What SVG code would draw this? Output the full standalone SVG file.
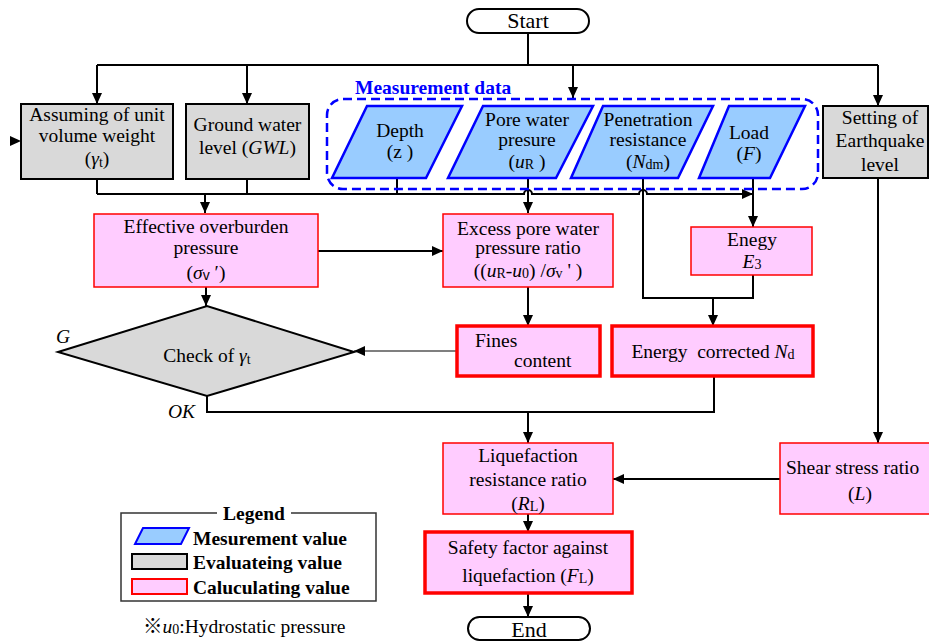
<svg xmlns="http://www.w3.org/2000/svg" width="929" height="641" viewBox="0 0 929 641">
  <style>
    .t { font-family: "Liberation Serif", "Times New Roman", serif; font-size: 19.5px; fill: #000; text-anchor: middle; }
    .s { text-anchor: start; }
    .bold { font-weight: bold; }
    .it { font-style: italic; }
    .sub { font-size: 14px; }
    .term { fill: #fff; stroke: #000; stroke-width: 2; }
    .gray { fill: #D9D9D9; stroke: #000; stroke-width: 2; }
    .calc { fill: #FFCCFF; stroke: #FF0000; stroke-width: 1.5; }
    .calcB { fill: #FFCCFF; stroke: #FF0000; stroke-width: 3.5; }
    .meas { fill: #99CCFF; stroke: #0000FF; stroke-width: 2.5; stroke-linejoin: miter; }
    .conn { fill: none; stroke: #000; stroke-width: 2; }
    .thin { fill: none; stroke: #000; stroke-width: 1.2; }
    .arr { marker-end: url(#arrow); }
  </style>
  <defs>
    <marker id="arrow" viewBox="0 0 11 10" refX="11" refY="5" markerWidth="11" markerHeight="10" markerUnits="userSpaceOnUse" orient="auto">
      <path d="M0,0 L11,5 L0,10 z" fill="#000"/>
    </marker>
  </defs>
  <rect width="929" height="641" fill="#fff"/>

  <!-- connectors -->
  <g id="connectors">
    <path class="conn" d="M528,33 V65"/>
    <path class="conn" d="M97,65 H878"/>
    <path class="conn arr" d="M97,65 V104"/>
    <path class="conn arr" d="M247,65 V104"/>
    <path class="conn arr" d="M573,65 V98"/>
    <path class="conn arr" d="M878,65 V106"/>
    <!-- collector under the input boxes -->
    <path class="conn" d="M97,179 V194"/>
    <path class="conn" d="M247,179 V194"/>
    <path class="conn" d="M397,178 V194"/>
    <path class="conn arr" d="M97,194 H524 a4,4 0 0 1 8,0 H639 a4,4 0 0 1 8,0 H753"/>
    <path class="conn arr" d="M205,194 V213"/>
    <path class="conn arr" d="M528,178 V213"/>
    <path class="conn" d="M643,178 V298 H753 V275"/>
    <path class="conn arr" d="M713,298 V326"/>
    <path class="conn arr" d="M753,178 V227"/>
    <path class="conn arr" d="M318,251 H443"/>
    <path class="conn arr" d="M206,287 V306"/>
    <path class="conn arr" d="M528,287 V326"/>
    <path class="thin arr" d="M457,351 H354"/>
    <path class="conn" d="M207,396 V412 H714 V376"/>
    <path class="conn arr" d="M528,412 V443"/>
    <path class="conn arr" d="M878,178 V443"/>
    <path class="conn arr" d="M780,479 H613"/>
    <path class="conn arr" d="M528,514 V532"/>
    <path class="conn arr" d="M528,593 V617"/>
    <polygon points="10,136 21,141 10,146" fill="#000"/>
  </g>

  <g id="start">
    <rect class="term" x="467" y="9" width="122" height="24" rx="12"/>
    <text class="t" x="528" y="28" style="font-size:22px">Start</text>
  </g>

  <g id="unit-weight">
    <rect class="gray" x="21" y="104" width="152" height="75"/>
    <text class="t" x="97" y="121">Assuming of unit</text>
    <text class="t" x="97" y="142">volume weight</text>
    <text class="t" x="97" y="165">(<tspan class="it">γ</tspan><tspan class="sub" dy="2">t</tspan><tspan dy="-2">)</tspan></text>
  </g>

  <g id="gwl">
    <rect class="gray" x="186" y="104" width="123" height="75"/>
    <text class="t" x="247.5" y="131">Ground water</text>
    <text class="t" x="247.5" y="154">level (<tspan class="it">GWL</tspan>)</text>
  </g>

  <g id="measurement-data">
    <rect x="327" y="99" width="491" height="90" rx="16" fill="none" stroke="#0000FF" stroke-width="2.5" stroke-dasharray="9 5"/>
    <text class="t s bold" x="355" y="94" fill="#0000FF" style="fill:#0000FF">Measurement data</text>
  </g>

  <g id="depth">
    <polygon class="meas" points="367,106 462,106 426,178 332,178"/>
    <text class="t" x="400" y="137">Depth</text>
    <text class="t" x="400" y="158">(z )</text>
  </g>

  <g id="pore-pressure">
    <polygon class="meas" points="483,106 593,106 556,178 448,178"/>
    <text class="t" x="527" y="126">Pore water</text>
    <text class="t" x="527" y="146">presure</text>
    <text class="t" x="527" y="168">(<tspan class="it">u</tspan><tspan class="sub" dy="1">R</tspan><tspan dy="-1"> )</tspan></text>
  </g>

  <g id="penetration">
    <polygon class="meas" points="603,106 713,106 678,178 571,178"/>
    <text class="t" x="648" y="126">Penetration</text>
    <text class="t" x="648" y="146">resistance</text>
    <text class="t" x="648" y="168">(<tspan class="it">N</tspan><tspan class="sub" dy="1">dm</tspan><tspan dy="-1">)</tspan></text>
  </g>

  <g id="load">
    <polygon class="meas" points="729,106 805,106 770,178 699,178"/>
    <text class="t" x="749" y="139">Load</text>
    <text class="t" x="749" y="160">(<tspan class="it">F</tspan>)</text>
  </g>

  <g id="earthquake-level">
    <rect class="gray" x="823" y="106" width="105" height="72"/>
    <text class="t" x="880" y="124">Setting of</text>
    <text class="t" x="880" y="147">Earthquake</text>
    <text class="t" x="880" y="171">level</text>
  </g>

  <g id="overburden">
    <rect class="calc" x="94" y="214" width="224" height="73"/>
    <text class="t" x="206" y="233">Effective overburden</text>
    <text class="t" x="206" y="254">pressure</text>
    <text class="t" x="206" y="279">(<tspan class="it">σ</tspan><tspan class="sub" dy="1" style="font-family:'Liberation Sans',sans-serif">v</tspan><tspan dy="-1"> ′)</tspan></text>
  </g>

  <g id="excess-pore-ratio">
    <rect class="calc" x="443" y="214" width="170" height="73"/>
    <text class="t" x="528" y="235">Excess pore water</text>
    <text class="t" x="528" y="254">pressure ratio</text>
    <text class="t" x="528" y="277">((<tspan class="it">u</tspan><tspan class="sub" dy="1">R</tspan><tspan dy="-1">-</tspan><tspan class="it">u</tspan><tspan class="sub" dy="1">0</tspan><tspan dy="-1">) /</tspan><tspan class="it">σ</tspan><tspan class="sub" dy="1">v</tspan><tspan dy="-1"> ' )</tspan></text>
  </g>

  <g id="energy-e3">
    <rect class="calc" x="691" y="227" width="121" height="48"/>
    <text class="t" x="752" y="246">Enegy</text>
    <text class="t" x="752" y="268"><tspan class="it">E</tspan><tspan class="sub" dy="1">3</tspan></text>
  </g>

  <g id="check-gamma">
    <polygon class="gray" points="58,352 207,306 354,352 207,396"/>
    <text class="t" x="207" y="362">Check of <tspan class="it">γ</tspan><tspan class="sub" dy="2">t</tspan></text>
    <text class="t s it" x="56" y="343">G</text>
    <text class="t s it" x="168" y="418">OK</text>
  </g>

  <g id="fines">
    <rect class="calcB" x="457" y="326" width="143" height="50"/>
    <text class="t s" x="475" y="347">Fines</text>
    <text class="t s" x="514" y="367">content</text>
  </g>

  <g id="corrected-nd">
    <rect class="calcB" x="612" y="326" width="201" height="50"/>
    <text class="t" x="713" y="358">Energy&#160; corrected <tspan class="it">N</tspan><tspan class="sub" dy="1">d</tspan></text>
  </g>

  <g id="resistance-ratio">
    <rect class="calc" x="443" y="443" width="170" height="71"/>
    <text class="t" x="528" y="462">Liquefaction</text>
    <text class="t" x="528" y="486">resistance ratio</text>
    <text class="t" x="528" y="510">(<tspan class="it">R</tspan><tspan class="sub" dy="1">L</tspan><tspan dy="-1">)</tspan></text>
  </g>

  <g id="shear-ratio">
    <rect class="calc" x="780" y="443" width="160" height="71"/>
    <text class="t s" x="786" y="474">Shear stress ratio</text>
    <text class="t" x="860" y="500">(<tspan class="it">L</tspan>)</text>
  </g>

  <g id="safety-factor">
    <rect class="calcB" x="425" y="532" width="207" height="61"/>
    <text class="t" x="528" y="554">Safety factor against</text>
    <text class="t" x="528" y="582">liquefaction (<tspan class="it">F</tspan><tspan class="sub" dy="1">L</tspan><tspan dy="-1">)</tspan></text>
  </g>

  <g id="end">
    <rect class="term" x="468" y="617" width="122" height="23" rx="11.5"/>
    <text class="t" x="529" y="637" style="font-size:22px">End</text>
  </g>

  <g id="legend">
    <path d="M217,513 H121 V601 H376 V513 H291" fill="none" stroke="#333" stroke-width="1.5"/>
    <text class="t bold" x="254" y="520">Legend</text>
    <polygon class="meas" points="143,528 189,528 181,544 135,544" style="stroke-width:2"/>
    <text class="t s bold" x="193" y="545">Mesurement value</text>
    <rect class="gray" x="132" y="554" width="55" height="15"/>
    <text class="t s bold" x="193" y="569">Evaluateing value</text>
    <rect class="calc" x="132" y="579" width="55" height="15" style="stroke-width:2"/>
    <text class="t s bold" x="193" y="594">Caluculating value</text>
  </g>

  <g id="footnote">
    <text class="t s" x="143" y="633" style="font-family:'Liberation Serif','Noto Sans CJK JP',serif">※<tspan class="it">u</tspan><tspan class="sub" dy="1">0</tspan><tspan dy="-1">:Hydrostatic pressure</tspan></text>
  </g>
</svg>
